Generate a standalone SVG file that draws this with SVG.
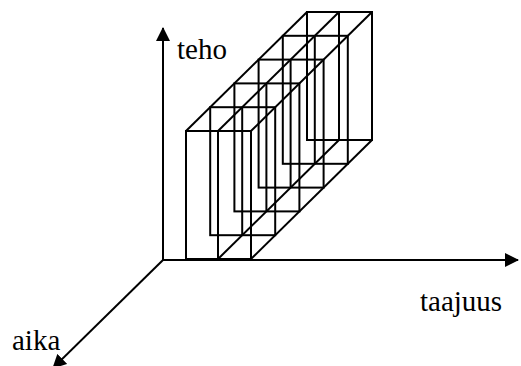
<svg xmlns="http://www.w3.org/2000/svg" width="521" height="366" viewBox="0 0 521 366">
  <style>
    .axis { stroke: #000; stroke-width: 2; fill: none; }
    .slab { stroke: #000; stroke-width: 2; fill: none; }
    .lbl { font-family: "Liberation Serif", "Times New Roman", serif; font-size: 29px; fill: #000; }
  </style>
  <defs>
    <marker id="arrow" viewBox="0 0 14 14" refX="13" refY="7" markerWidth="14" markerHeight="14" markerUnits="userSpaceOnUse" orient="auto">
      <path d="M0,0 L14,7 L0,14 Z" fill="#000"/>
    </marker>
    <!-- one time slice: outer frame with the dividing line -->
    <g id="slice">
      <rect x="0" y="0" width="65" height="128" class="slab"/>
      <line x1="32" y1="0" x2="32" y2="128" class="slab"/>
    </g>
  </defs>

  <!-- axes -->
  <g id="connectors">
    <line class="axis" x1="163" y1="260" x2="163" y2="28" marker-end="url(#arrow)"/>
    <line class="axis" x1="162" y1="260" x2="518" y2="260" marker-end="url(#arrow)"/>
    <line class="axis" x1="163" y1="260" x2="53" y2="368" marker-end="url(#arrow)"/>
  </g>

  <!-- time slices, front to back -->
  <g id="slices">
    <use href="#slice" x="186" y="131"/>
    <use href="#slice" x="210.2" y="107.2"/>
    <use href="#slice" x="234.4" y="83.4"/>
    <use href="#slice" x="258.6" y="59.6"/>
    <use href="#slice" x="282.8" y="35.8"/>
    <use href="#slice" x="307" y="12"/>
  </g>

  <!-- long edges running back along the time axis -->
  <g id="edges">
    <line class="slab" x1="186" y1="131" x2="307" y2="12"/>
    <line class="slab" x1="218" y1="131" x2="339" y2="12"/>
    <line class="slab" x1="251" y1="131" x2="372" y2="12"/>
    <line class="slab" x1="218" y1="259" x2="339" y2="140"/>
    <line class="slab" x1="251" y1="259" x2="372" y2="140"/>
  </g>

  <!-- axis labels -->
  <g id="labels">
    <text class="lbl" x="177" y="59">teho</text>
    <text class="lbl" x="420" y="311">taajuus</text>
    <text class="lbl" x="12" y="350">aika</text>
  </g>
</svg>
